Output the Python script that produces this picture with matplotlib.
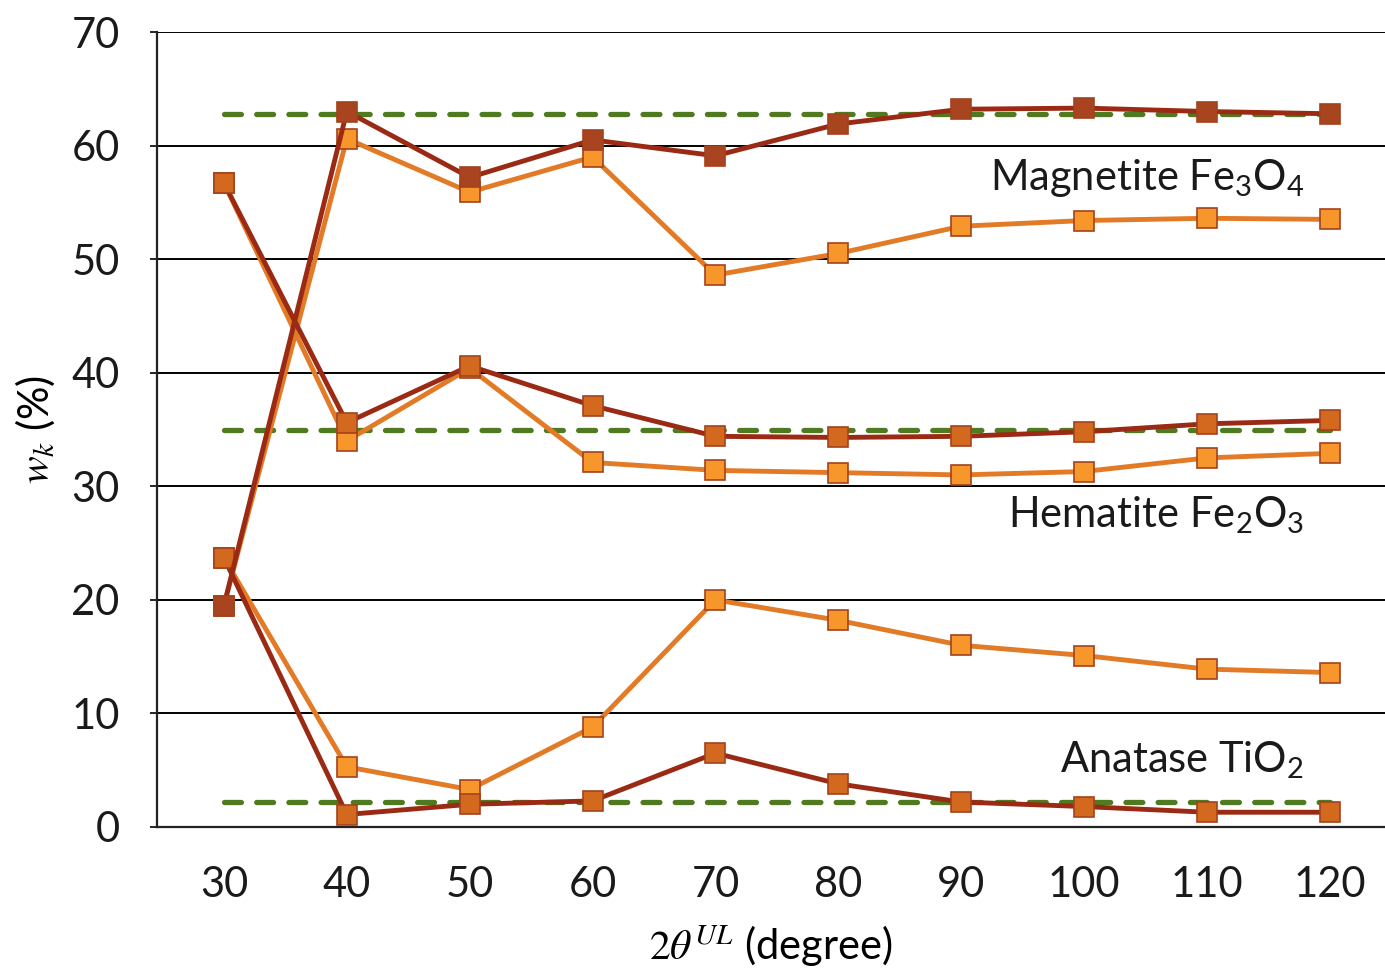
import matplotlib.pyplot as plt

# scan angle categories
angles = [30, 40, 50, 60, 70, 80, 90, 100, 110, 120]

# weight fractions (%) - two refinements per phase
magnetite_a = [19.5, 63.0, 57.2, 60.5, 59.1, 61.9, 63.2, 63.3, 63.0, 62.8]
magnetite_b = [19.5, 60.6, 55.9, 59.0, 48.6, 50.5, 52.9, 53.4, 53.6, 53.5]
hematite_a = [56.7, 35.6, 40.6, 37.1, 34.4, 34.3, 34.4, 34.8, 35.5, 35.8]
hematite_b = [56.7, 34.0, 40.4, 32.1, 31.4, 31.2, 31.0, 31.3, 32.5, 32.9]
anatase_a = [23.7, 1.1, 2.0, 2.3, 6.5, 3.8, 2.2, 1.8, 1.3, 1.3]
anatase_b = [23.7, 5.3, 3.3, 8.8, 20.0, 18.2, 16.0, 15.1, 13.9, 13.6]

# nominal composition
nominal = [62.8, 35.0, 2.2]

labels = ['Magnetite Fe$_3$O$_4$', 'Hematite Fe$_2$O$_3$', 'Anatase TiO$_2$']
label_y = [56.1, 26.4, 4.8]

plt.rcParams['font.family'] = ['Lato', 'DejaVu Sans']
plt.rcParams['mathtext.fontset'] = 'custom'
plt.rcParams['mathtext.rm'] = 'Lato'
plt.rcParams['mathtext.it'] = 'Lato:italic'

fig = plt.figure(figsize=(13.85, 9.71), dpi=100)
ax = fig.add_axes([157 / 1385, 1 - 827 / 971, 1 - 157 / 1385, (827 - 32) / 971])

dark_line = '#9a2a14'
light_line = '#e27a26'
edge = '#a3431c'

for v in nominal:
    ax.plot([angles[0], angles[-1]], [v, v], color='#4f7a1f', lw=3.8,
            dashes=(3.2, 2.9), dash_capstyle='round', zorder=2)

light_kw = dict(color=light_line, lw=3.5, marker='s', markersize=15,
                markerfacecolor='#f6962b', markeredgecolor=edge,
                markeredgewidth=1.2, zorder=3)
ax.plot(angles, magnetite_b, **light_kw)
ax.plot(angles, hematite_b, **light_kw)
ax.plot(angles, anatase_b, **light_kw)

dark_kw = dict(color=dark_line, lw=3.5, marker='s', markersize=15,
               markeredgecolor=edge, markeredgewidth=1.2, zorder=4)
ax.plot(angles, hematite_a, markerfacecolor='#d2691f', **dark_kw)
ax.plot(angles, anatase_a, markerfacecolor='#d2691f', **dark_kw)
ax.plot(angles, magnetite_a, markerfacecolor='#a8441f', **dark_kw)

for text, y in zip(labels, label_y):
    ax.text(117.9, y, text, ha='right', va='baseline', fontsize=30,
            color='#1a1a1a', zorder=5)

ax.set_xlim(24.55, 124.5)
ax.set_ylim(0, 70)
ax.set_xticks(angles)
ax.set_yticks(range(0, 71, 10))
ax.tick_params(axis='both', labelsize=30, length=0, labelcolor='#1a1a1a')
ax.tick_params(axis='x', pad=28)
ax.tick_params(axis='y', length=5, width=1.2, pad=22)

ax.grid(axis='y', color='black', lw=1.4, zorder=1)
ax.set_axisbelow(True)
for s in ['top', 'right']:
    ax.spines[s].set_visible(False)
for s in ['left', 'bottom']:
    ax.spines[s].set_linewidth(1.6)
    ax.spines[s].set_color('#222222')

ax.set_xlabel(r'$2\theta^{UL}$ (degree)', fontsize=30, labelpad=14,
              math_fontfamily='stix')
ax.set_ylabel(r'$w_k$ (%)', fontsize=30, labelpad=10,
              math_fontfamily='stix')

fig.savefig('out.png', dpi=100)
